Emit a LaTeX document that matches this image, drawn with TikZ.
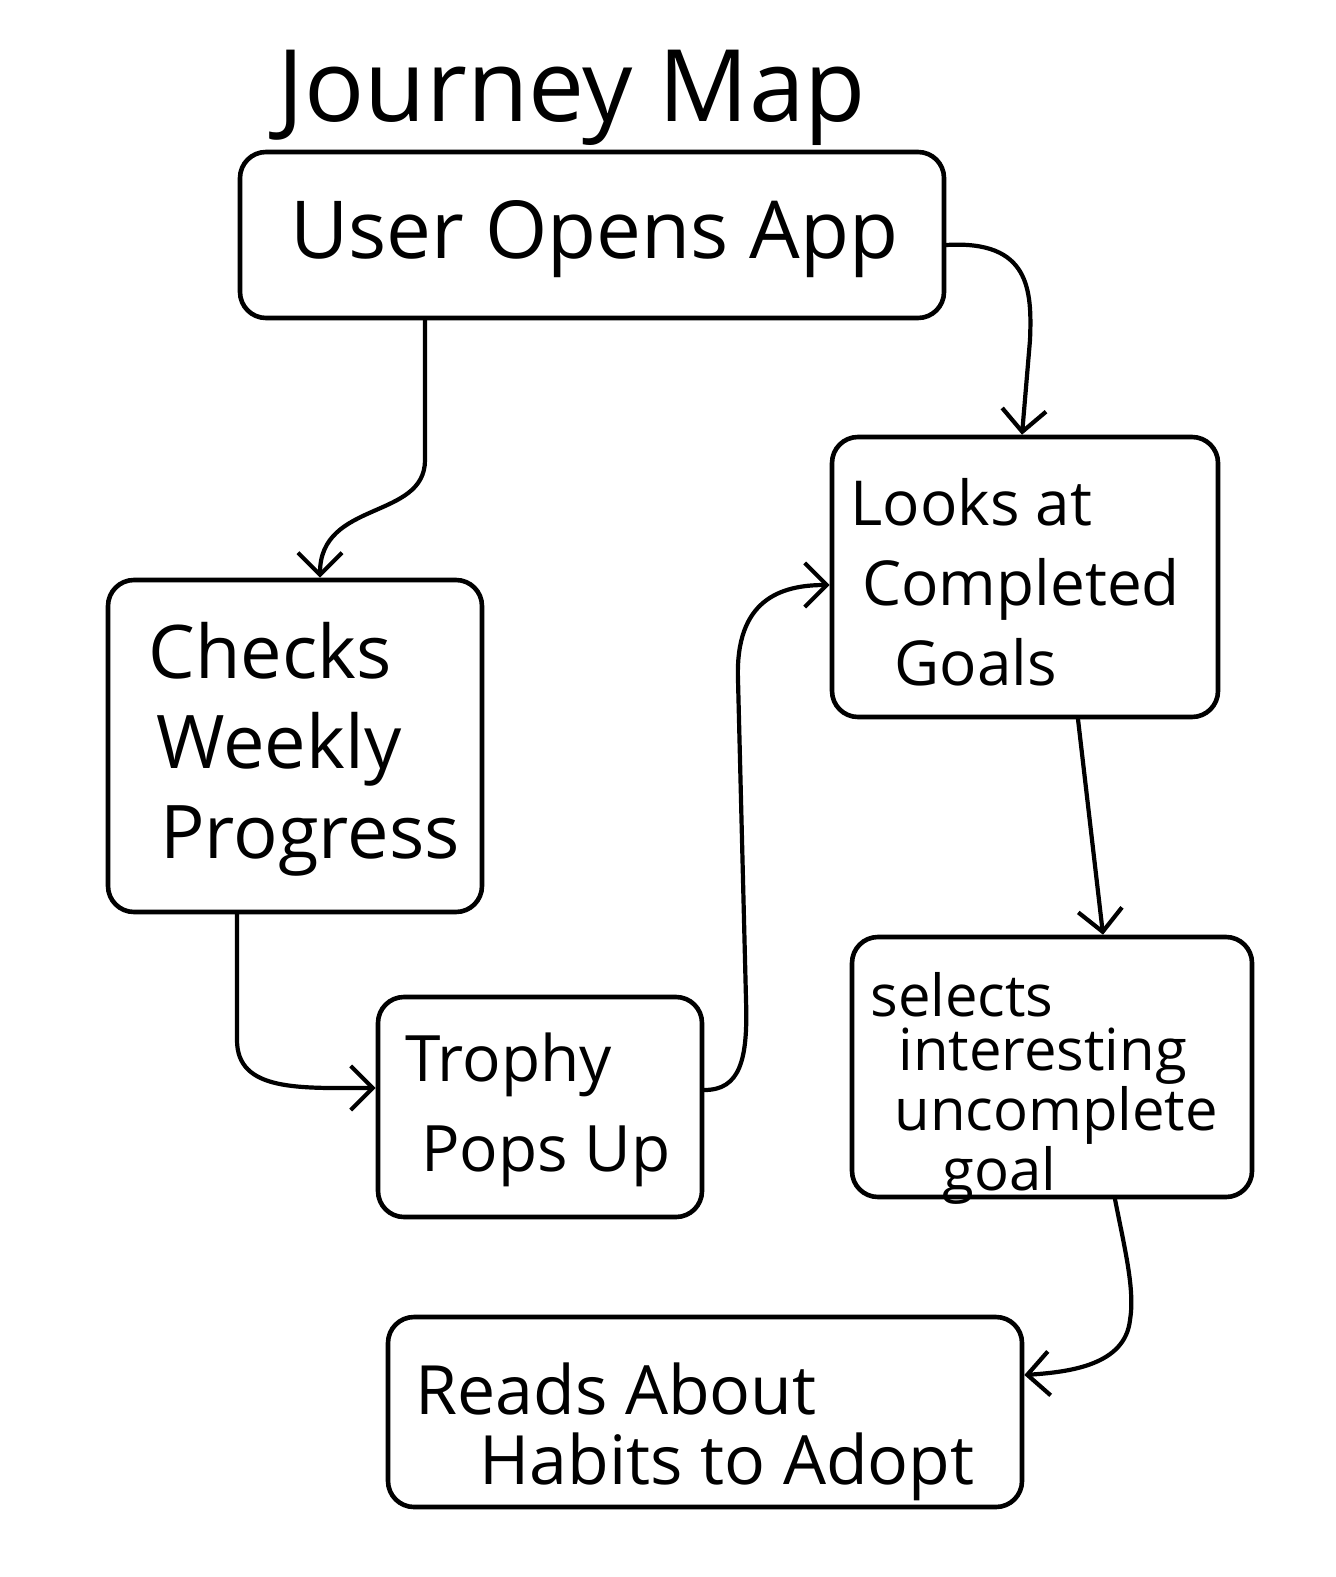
\documentclass[tikz,border=0pt]{standalone}
\usepackage{fontspec}
\setmainfont{Open Sans}
\usetikzlibrary{arrows.meta,calc}
\begin{document}
\begin{tikzpicture}[x=0.5pt,y=-0.5pt,
  box/.style={draw, line width=2.3pt, rounded corners=13pt, inner sep=0pt},
  lbl/.style={align=left, inner sep=0pt, anchor=north west},
  arr/.style={line width=2.1pt, line cap=round, line join=round, -{Straight Barb[length=11pt,width=22pt,line width=2.1pt]}},
  title/.style={font=\fontsize{50}{56}\selectfont}
]
\useasboundingbox (0,0) rectangle (1335,1577);
\node[title] (t) at (572,98) {Journey Map};
\node[box, minimum width=352pt, minimum height=83pt] (b1) at (592,235) {};
\node[box, minimum width=187pt, minimum height=166pt] (b2) at (295,746) {};
\node[box, minimum width=193pt, minimum height=140pt] (b3) at (1025,577) {};
\node[box, minimum width=162pt, minimum height=110pt] (b4) at (540,1107) {};
\node[box, minimum width=200pt, minimum height=130pt] (b5) at (1052,1067) {};
\node[box, minimum width=317pt, minimum height=95pt] (b6) at (705,1412) {};

\node[lbl, font=\fontsize{40}{46}\selectfont] (t1) at (290,200) {User Opens App};
\node[lbl, font=\fontsize{37}{45}\selectfont] (t2) at (148,622) {Checks\\\hspace*{4pt}Weekly\\\hspace*{6pt}Progress};
\node[lbl, font=\fontsize{31}{40}\selectfont] (t3) at (850,478) {Looks at\\\hspace*{6pt}Completed\\\hspace*{22pt}Goals};
\node[lbl, font=\fontsize{32}{45}\selectfont] (t4) at (405,1032) {Trophy\\\hspace*{8pt}Pops Up};
\node[lbl, font=\fontsize{29}{27}\selectfont] (t5) at (870,972) {selects\\\hspace*{14pt}interesting\\\hspace*{12pt}uncomplete\\\hspace*{36pt}goal};
\node[lbl, font=\fontsize{34}{35}\selectfont] (t6) at (415,1362) {Reads About\\\hspace*{32pt}Habits to Adopt};

\draw[arr] ($(b1.south)+(-167,0)$) -- (425,460) .. controls (425,520) and (320,500) .. ($(b2.north)+(25,0)$);
\draw[arr] ($(b1.east)+(0,10)$) .. controls (1030,240) and (1032,290) .. (1030,340) -- ($(b3.north)+(-3,0)$);
\draw[arr] ($(b2.south)+(-58,0)$) -- (237,1040) .. controls (237,1092) and (300,1088) .. ($(b4.west)+(0,-19)$);
\draw[arr] ($(b4.east)+(0,-17)$) .. controls (740,1090) and (748,1060) .. (746,1000) -- (738,680) .. controls (735,600) and (780,585) .. ($(b3.west)+(0,8)$);
\draw[arr] ($(b3.south)+(53,0)$) -- ($(b5.north)+(51,0)$);
\draw[arr] ($(b5.south)+(63,0)$) .. controls (1125,1250) and (1135,1290) .. (1130,1320) .. controls (1125,1365) and (1070,1372) .. ($(b6.east)+(0,-37)$);
\end{tikzpicture}
\end{document}
